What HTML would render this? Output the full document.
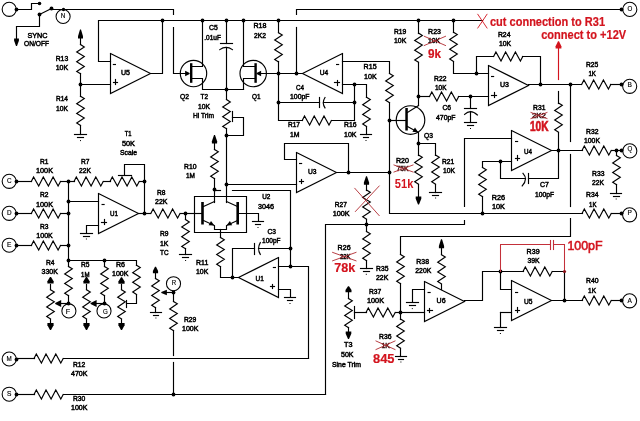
<!DOCTYPE html>
<html><head><meta charset="utf-8"><style>
html,body{margin:0;padding:0;background:#fff;width:640px;height:421px;overflow:hidden}
svg{display:block;will-change:transform}
text{font-family:"Liberation Sans",sans-serif}
</style></head><body>
<svg width="640" height="421" viewBox="0 0 640 421">
<rect width="640" height="421" fill="#fff"/>
<g fill="none" stroke-linejoin="miter" stroke-linecap="square">
<circle cx="9.2" cy="9.3" r="7.05" fill="none" stroke="#000" stroke-width="1.05"/>
<circle cx="16.5" cy="9.5" r="1.9" fill="#000" stroke="none"/>
<polyline points="16.5,9.5 31.5,9.5 31.5,3.5 39.5,3.5" stroke="#000" stroke-width="1.15"/>
<circle cx="39.5" cy="3.5" r="1.8" fill="#000" stroke="none"/>
<circle cx="39.5" cy="14.5" r="1.9" fill="#000" stroke="none"/>
<polyline points="39.5,14.5 51.5,8.5" stroke="#000" stroke-width="1.15"/>
<circle cx="51.5" cy="8.5" r="1.9" fill="#000" stroke="none"/>
<polyline points="39.5,14.5 39.5,26.5 16.5,26.5 16.5,39.5" stroke="#000" stroke-width="1.15"/>
<polygon points="16,46 17,46 18.9,40.7 18.9,38.5 14.1,38.5 14.1,40.7" fill="#000" stroke="none"/>
<polyline points="52.5,9.5 173.5,9.5 173.5,14.5" stroke="#000" stroke-width="1.15"/>
<polyline points="173.5,27.5 173.5,73.5 186.5,73.5" stroke="#000" stroke-width="1.15"/>
<circle cx="63.5" cy="9.5" r="1.7" fill="#000" stroke="none"/>
<circle cx="63.1" cy="16.5" r="7.05" fill="none" stroke="#000" stroke-width="1.05"/>
<text x="60.8" y="17.8" font-size="6.3" fill="#000" textLength="4.6" lengthAdjust="spacingAndGlyphs" stroke="#000" stroke-width="0.15">N</text>
<text x="27.4" y="37.79" font-size="7.4" fill="#000" textLength="20" lengthAdjust="spacingAndGlyphs" stroke="#000" stroke-width="0.5">SYNC</text>
<text x="24" y="46.39" font-size="7.4" fill="#000" textLength="25" lengthAdjust="spacingAndGlyphs" stroke="#000" stroke-width="0.5">ON/OFF</text>
<polyline points="110.5,53.5 110.5,93.5 150.5,73.5 110.5,53.5" stroke="#000" stroke-width="1.15"/>
<polyline points="113.4,64.5 115.4,64.5" stroke="#000" stroke-width="1.15"/>
<polyline points="113.5,82.5 117.5,82.5" stroke="#000" stroke-width="1.15"/>
<polyline points="115.5,79.5 115.5,84.5" stroke="#000" stroke-width="1.15"/>
<text x="121" y="74.59" font-size="7.4" fill="#000" textLength="9" lengthAdjust="spacingAndGlyphs" stroke="#000" stroke-width="0.5">U5</text>
<polyline points="110.5,61.5 98.5,61.5 98.5,20.5 482.5,20.5" stroke="#000" stroke-width="1.15"/>
<polyline points="151.5,73.5 162.5,73.5 162.5,20.5" stroke="#000" stroke-width="1.15"/>
<circle cx="162.5" cy="20.5" r="1.9" fill="#000" stroke="none"/>
<polyline points="80.5,84.5 110.5,84.5" stroke="#000" stroke-width="1.15"/>
<circle cx="80.5" cy="84.5" r="1.9" fill="#000" stroke="none"/>
<polygon points="80,29.5 81,29.5 83,36.3 83,38.5 78,38.5 78,36.3" fill="#000" stroke="none"/>
<polyline points="80.5,38.5 80.5,44.5" stroke="#000" stroke-width="1.15"/>
<polyline points="80.5,44.6 84.3,46.9 76.7,52 84.3,56.6 76.7,61.7 84.3,66.4 76.7,71.4 80.5,73.8" stroke="#000" stroke-width="1.15"/>
<polyline points="80.5,73.5 80.5,96.5" stroke="#000" stroke-width="1.15"/>
<polyline points="80.5,96.3 84.3,98.6 76.7,103.7 84.3,108.3 76.7,113.4 84.3,118.1 76.7,123.1 80.5,125.5" stroke="#000" stroke-width="1.15"/>
<polyline points="80.5,125.5 80.5,134.5" stroke="#000" stroke-width="1.15"/>
<polyline points="74.5,134.5 86.5,134.5" stroke="#000" stroke-width="1.15"/>
<polyline points="77.5,137.5 83.5,137.5" stroke="#000" stroke-width="1.15"/>
<rect x="80" y="140.1" width="1" height="1" fill="#000"/>
<text x="55.7" y="61.09" font-size="7.4" fill="#000" textLength="12.5" lengthAdjust="spacingAndGlyphs" stroke="#000" stroke-width="0.5">R13</text>
<text x="55.7" y="70.19" font-size="7.4" fill="#000" textLength="12.5" lengthAdjust="spacingAndGlyphs" stroke="#000" stroke-width="0.5">10K</text>
<text x="56" y="101.39" font-size="7.4" fill="#000" textLength="12" lengthAdjust="spacingAndGlyphs" stroke="#000" stroke-width="0.5">R14</text>
<text x="56" y="111.39" font-size="7.4" fill="#000" textLength="12" lengthAdjust="spacingAndGlyphs" stroke="#000" stroke-width="0.5">10K</text>
<circle cx="193.5" cy="73.5" r="13.2" fill="none" stroke="#000" stroke-width="1.15"/>
<polygon points="189.6,73 189.6,74 185.1,76.3 185.1,70.7" fill="#000" stroke="none"/>
<rect x="190" y="63.2" width="2.4" height="19.6" fill="#000"/>
<polyline points="192.5,66.5 202.5,66.5 202.5,20.5" stroke="#000" stroke-width="1.15"/>
<polyline points="192.5,78.5 202.5,78.5 202.5,89.5 243.5,89.5" stroke="#000" stroke-width="1.15"/>
<circle cx="202.5" cy="20.5" r="1.9" fill="#000" stroke="none"/>
<circle cx="253.2" cy="73.5" r="13.2" fill="none" stroke="#000" stroke-width="1.15"/>
<polygon points="256.6,73 256.6,74 261.1,76.3 261.1,70.7" fill="#000" stroke="none"/>
<rect x="254.4" y="63.2" width="2.4" height="19.6" fill="#000"/>
<polyline points="255.5,66.5 243.5,66.5 243.5,20.5" stroke="#000" stroke-width="1.15"/>
<polyline points="255.5,78.5 243.5,78.5 243.5,89.5" stroke="#000" stroke-width="1.15"/>
<circle cx="243.5" cy="20.5" r="1.9" fill="#000" stroke="none"/>
<polyline points="260.5,73.5 302.5,73.5" stroke="#000" stroke-width="1.15"/>
<circle cx="278.5" cy="73.5" r="1.9" fill="#000" stroke="none"/>
<circle cx="296.5" cy="73.5" r="1.9" fill="#000" stroke="none"/>
<circle cx="226.5" cy="20.5" r="1.9" fill="#000" stroke="none"/>
<polyline points="226.5,20.5 226.5,43.5" stroke="#000" stroke-width="1.15"/>
<polyline points="220.5,43.5 232.5,43.5" stroke="#000" stroke-width="1.15"/>
<path d="M219.8,49.6 Q226,45 232.4,49.6" fill="none" stroke="#000" stroke-width="1.15"/>
<polyline points="226.5,47.5 226.5,99.5" stroke="#000" stroke-width="1.15"/>
<circle cx="226.5" cy="89.5" r="1.9" fill="#000" stroke="none"/>
<text x="209" y="30.39" font-size="7.4" fill="#000" textLength="8.7" lengthAdjust="spacingAndGlyphs" stroke="#000" stroke-width="0.5">C5</text>
<text x="204.3" y="39.89" font-size="7.4" fill="#000" textLength="16.7" lengthAdjust="spacingAndGlyphs" stroke="#000" stroke-width="0.5">.01uF</text>
<text x="180" y="98.89" font-size="7.4" fill="#000" textLength="9" lengthAdjust="spacingAndGlyphs" stroke="#000" stroke-width="0.5">Q2</text>
<text x="200.5" y="98.89" font-size="7.4" fill="#000" textLength="7.5" lengthAdjust="spacingAndGlyphs" stroke="#000" stroke-width="0.5">T2</text>
<text x="198" y="109.39" font-size="7.4" fill="#000" textLength="12" lengthAdjust="spacingAndGlyphs" stroke="#000" stroke-width="0.5">10K</text>
<text x="193" y="118.39" font-size="7.4" fill="#000" textLength="21" lengthAdjust="spacingAndGlyphs" stroke="#000" stroke-width="0.5">Hi Trim</text>
<text x="252" y="98.89" font-size="7.4" fill="#000" textLength="8.5" lengthAdjust="spacingAndGlyphs" stroke="#000" stroke-width="0.5">Q1</text>
<polyline points="226.5,99.6 230.3,101.9 222.7,107 230.3,111.6 222.7,116.7 230.3,121.4 222.7,126.4 226.5,128.8" stroke="#000" stroke-width="1.15"/>
<polyline points="226.5,128.5 226.5,135.5" stroke="#000" stroke-width="1.15"/>
<circle cx="226.5" cy="135.5" r="1.9" fill="#000" stroke="none"/>
<polyline points="232.5,111.5 232.5,121.5" stroke="#000" stroke-width="1.15"/>
<polyline points="232.5,117.5 243.5,117.5 243.5,135.5 226.5,135.5" stroke="#000" stroke-width="1.15"/>
<circle cx="278.5" cy="20.5" r="1.9" fill="#000" stroke="none"/>
<polyline points="278.5,20.5 278.5,32.5" stroke="#000" stroke-width="1.15"/>
<polyline points="278.5,32.7 282.3,35 274.7,40.1 282.3,44.7 274.7,49.8 282.3,54.5 274.7,59.5 278.5,61.9" stroke="#000" stroke-width="1.15"/>
<polyline points="278.5,61.5 278.5,73.5" stroke="#000" stroke-width="1.15"/>
<text x="253.5" y="28.39" font-size="7.4" fill="#000" textLength="13" lengthAdjust="spacingAndGlyphs" stroke="#000" stroke-width="0.5">R18</text>
<text x="254" y="38.39" font-size="7.4" fill="#000" textLength="12" lengthAdjust="spacingAndGlyphs" stroke="#000" stroke-width="0.5">2K2</text>
<polyline points="296.5,14.5 296.5,9.5 621.5,9.5" stroke="#000" stroke-width="1.15"/>
<polyline points="296.5,27.5 296.5,73.5" stroke="#000" stroke-width="1.15"/>
<circle cx="621.5" cy="9.5" r="1.9" fill="#000" stroke="none"/>
<circle cx="629.8" cy="9.4" r="7.05" fill="none" stroke="#000" stroke-width="1.05"/>
<text x="627.4" y="10.7" font-size="6.3" fill="#000" textLength="4.8" lengthAdjust="spacingAndGlyphs" stroke="#000" stroke-width="0.15">O</text>
<polyline points="342.5,53.5 342.5,93.5 302.5,73.5 342.5,53.5" stroke="#000" stroke-width="1.15"/>
<polyline points="336.6,64.5 338.6,64.5" stroke="#000" stroke-width="1.15"/>
<polyline points="334.5,82.5 339.5,82.5" stroke="#000" stroke-width="1.15"/>
<polyline points="337.5,80.5 337.5,85.5" stroke="#000" stroke-width="1.15"/>
<text x="319.7" y="75.09" font-size="7.4" fill="#000" textLength="8.5" lengthAdjust="spacingAndGlyphs" stroke="#000" stroke-width="0.5">U4</text>
<polyline points="342.5,61.5 389.5,61.5 389.5,73.5" stroke="#000" stroke-width="1.15"/>
<polyline points="389.5,73.5 393.3,75.8 385.7,80.9 393.3,85.5 385.7,90.6 393.3,95.3 385.7,100.3 389.5,102.7" stroke="#000" stroke-width="1.15"/>
<polyline points="389.5,102.5 389.5,213.5 482.5,213.5" stroke="#000" stroke-width="1.15"/>
<polyline points="342.5,84.5 366.5,84.5 366.5,97.5" stroke="#000" stroke-width="1.15"/>
<circle cx="354.5" cy="84.5" r="1.9" fill="#000" stroke="none"/>
<polyline points="366.5,97.3 370.3,99.6 362.7,104.7 370.3,109.3 362.7,114.4 370.3,119.1 362.7,124.1 366.5,126.5" stroke="#000" stroke-width="1.15"/>
<polyline points="366.5,126.5 366.5,134.5" stroke="#000" stroke-width="1.15"/>
<polyline points="360.5,134.5 371.5,134.5" stroke="#000" stroke-width="1.15"/>
<polyline points="363.5,137.5 368.5,137.5" stroke="#000" stroke-width="1.15"/>
<rect x="365.5" y="140" width="1" height="1" fill="#000"/>
<polyline points="354.5,84.5 354.5,120.5 331.5,120.5" stroke="#000" stroke-width="1.15"/>
<circle cx="354.5" cy="102.5" r="1.9" fill="#000" stroke="none"/>
<polyline points="278.5,73.5 278.5,120.5 302.5,120.5" stroke="#000" stroke-width="1.15"/>
<polyline points="302.2,120.5 304.5,116 309.6,125 314.2,116 319.3,125 324,116 329,125 331.4,120.5" stroke="#000" stroke-width="1.15"/>
<circle cx="278.5" cy="102.5" r="1.9" fill="#000" stroke="none"/>
<polyline points="278.5,102.5 319.5,102.5" stroke="#000" stroke-width="1.15"/>
<polyline points="319.5,97.5 319.5,107.5" stroke="#000" stroke-width="1.15"/>
<path d="M325,97.5 Q321.6,102.7 325,107.9" fill="none" stroke="#000" stroke-width="1.15"/>
<polyline points="323.5,102.5 354.5,102.5" stroke="#000" stroke-width="1.15"/>
<text x="363.6" y="69.19" font-size="7.4" fill="#000" textLength="13" lengthAdjust="spacingAndGlyphs" stroke="#000" stroke-width="0.5">R15</text>
<text x="364" y="78.99" font-size="7.4" fill="#000" textLength="12.7" lengthAdjust="spacingAndGlyphs" stroke="#000" stroke-width="0.5">10K</text>
<text x="296" y="90.39" font-size="7.4" fill="#000" textLength="8" lengthAdjust="spacingAndGlyphs" stroke="#000" stroke-width="0.5">C4</text>
<text x="290" y="99.39" font-size="7.4" fill="#000" textLength="19.5" lengthAdjust="spacingAndGlyphs" stroke="#000" stroke-width="0.5">100pF</text>
<text x="288" y="127.19" font-size="7.4" fill="#000" textLength="12" lengthAdjust="spacingAndGlyphs" stroke="#000" stroke-width="0.5">R17</text>
<text x="290" y="136.99" font-size="7.4" fill="#000" textLength="9.5" lengthAdjust="spacingAndGlyphs" stroke="#000" stroke-width="0.5">1M</text>
<text x="344" y="127.19" font-size="7.4" fill="#000" textLength="12.5" lengthAdjust="spacingAndGlyphs" stroke="#000" stroke-width="0.5">R16</text>
<text x="344" y="136.99" font-size="7.4" fill="#000" textLength="12.5" lengthAdjust="spacingAndGlyphs" stroke="#000" stroke-width="0.5">10K</text>
<circle cx="418.5" cy="20.5" r="1.9" fill="#000" stroke="none"/>
<polyline points="418.5,20.5 418.5,33.5" stroke="#000" stroke-width="1.15"/>
<polyline points="418.5,33.1 422.3,35.4 414.7,40.5 422.3,45.1 414.7,50.2 422.3,54.9 414.7,59.9 418.5,62.3" stroke="#000" stroke-width="1.15"/>
<polyline points="418.5,62.5 418.5,105.5" stroke="#000" stroke-width="1.15"/>
<circle cx="418.5" cy="96.5" r="1.9" fill="#000" stroke="none"/>
<circle cx="453.5" cy="20.5" r="1.9" fill="#000" stroke="none"/>
<polyline points="453.5,20.5 453.5,32.5" stroke="#000" stroke-width="1.15"/>
<polyline points="453.5,32.2 457.3,34.5 449.7,39.6 457.3,44.2 449.7,49.3 457.3,54 449.7,59 453.5,61.4" stroke="#000" stroke-width="1.15"/>
<polyline points="453.5,61.5 453.5,73.5 488.5,73.5" stroke="#000" stroke-width="1.15"/>
<circle cx="476.5" cy="73.5" r="1.9" fill="#000" stroke="none"/>
<polyline points="476.5,73.5 476.5,56.5 493.5,56.5" stroke="#000" stroke-width="1.15"/>
<polyline points="493.6,56.5 495.9,52 501,61 505.6,52 510.7,61 515.4,52 520.4,61 522.8,56.5" stroke="#000" stroke-width="1.15"/>
<polyline points="522.5,56.5 540.5,56.5 540.5,84.5" stroke="#000" stroke-width="1.15"/>
<text x="394" y="34.39" font-size="7.4" fill="#000" textLength="12.3" lengthAdjust="spacingAndGlyphs" stroke="#000" stroke-width="0.5">R19</text>
<text x="394" y="43.39" font-size="7.4" fill="#000" textLength="12.3" lengthAdjust="spacingAndGlyphs" stroke="#000" stroke-width="0.5">10K</text>
<text x="428.1" y="33.99" font-size="7.4" fill="#000" textLength="12.9" lengthAdjust="spacingAndGlyphs" stroke="#000" stroke-width="0.5">R23</text>
<text x="428" y="43.19" font-size="7.4" fill="#000" textLength="12" lengthAdjust="spacingAndGlyphs" stroke="#000" stroke-width="0.5">10K</text>
<polyline points="424.3,36.3 445.5,45.5" stroke="#b02a30" stroke-width="0.9"/>
<polyline points="424.3,45.5 445.5,36.3" stroke="#b02a30" stroke-width="0.9"/>
<text x="428" y="58" font-size="13.5" fill="#d3141e" font-weight="bold" textLength="13" lengthAdjust="spacingAndGlyphs" stroke="#d3141e" stroke-width="0.2">9k</text>
<text x="497.9" y="37.39" font-size="7.4" fill="#000" textLength="12.6" lengthAdjust="spacingAndGlyphs" stroke="#000" stroke-width="0.5">R24</text>
<text x="499" y="46.39" font-size="7.4" fill="#000" textLength="12.2" lengthAdjust="spacingAndGlyphs" stroke="#000" stroke-width="0.5">10K</text>
<polyline points="418.5,96.5 429.5,96.5" stroke="#000" stroke-width="1.15"/>
<polyline points="429.5,96.5 431.8,92 436.9,101 441.5,92 446.6,101 451.3,92 456.3,101 458.7,96.5" stroke="#000" stroke-width="1.15"/>
<polyline points="458.5,96.5 488.5,96.5" stroke="#000" stroke-width="1.15"/>
<circle cx="470.5" cy="96.5" r="1.9" fill="#000" stroke="none"/>
<polyline points="470.5,96.5 470.5,108.5" stroke="#000" stroke-width="1.15"/>
<polyline points="464.5,108.5 476.5,108.5" stroke="#000" stroke-width="1.15"/>
<path d="M464.6,114.4 Q470.6,108.4 477.4,115" fill="none" stroke="#000" stroke-width="1.15"/>
<polyline points="470.5,111.5 470.5,122.5" stroke="#000" stroke-width="1.15"/>
<polyline points="464.5,122.5 476.5,122.5" stroke="#000" stroke-width="1.15"/>
<polyline points="467.5,125.5 473.5,125.5" stroke="#000" stroke-width="1.15"/>
<rect x="470" y="128" width="1" height="1" fill="#000"/>
<text x="434" y="80.69" font-size="7.4" fill="#000" textLength="12.4" lengthAdjust="spacingAndGlyphs" stroke="#000" stroke-width="0.5">R22</text>
<text x="435" y="90.39" font-size="7.4" fill="#000" textLength="11.5" lengthAdjust="spacingAndGlyphs" stroke="#000" stroke-width="0.5">10K</text>
<text x="442.5" y="110.39" font-size="7.4" fill="#000" textLength="8.5" lengthAdjust="spacingAndGlyphs" stroke="#000" stroke-width="0.5">C6</text>
<text x="436" y="119.69" font-size="7.4" fill="#000" textLength="19.6" lengthAdjust="spacingAndGlyphs" stroke="#000" stroke-width="0.5">470pF</text>
<circle cx="410.5" cy="120.1" r="14.3" fill="none" stroke="#000" stroke-width="1.15"/>
<circle cx="389.5" cy="120.5" r="1.9" fill="#000" stroke="none"/>
<polyline points="389.5,120.5 406.5,120.5" stroke="#000" stroke-width="1.15"/>
<rect x="405.3" y="108" width="2.5" height="22.5" fill="#000"/>
<polyline points="407.5,112.5 418.5,105.5" stroke="#000" stroke-width="1.15"/>
<polyline points="407.5,126.5 418.5,132.5 418.5,143.5 435.5,143.5 435.5,155.5" stroke="#000" stroke-width="1.15"/>
<polygon points="418.4,132.5 412.4,131.8 415,127.6" fill="#000" stroke="none"/>
<circle cx="418.5" cy="143.5" r="1.9" fill="#000" stroke="none"/>
<polyline points="418.5,143.5 418.5,155.5" stroke="#000" stroke-width="1.15"/>
<text x="424" y="138.39" font-size="7.4" fill="#000" textLength="9" lengthAdjust="spacingAndGlyphs" stroke="#000" stroke-width="0.5">Q3</text>
<polyline points="418.5,155 422.3,157.3 414.7,162.4 422.3,167 414.7,172.1 422.3,176.8 414.7,181.8 418.5,184.2" stroke="#000" stroke-width="1.15"/>
<polyline points="418.5,184.5 418.5,197.5" stroke="#000" stroke-width="1.15"/>
<polygon points="418,204.5 419,204.5 421.3,198.7 421.3,196.5 415.7,196.5 415.7,198.7" fill="#000" stroke="none"/>
<text x="396" y="163.39" font-size="7.4" fill="#000" textLength="13" lengthAdjust="spacingAndGlyphs" stroke="#000" stroke-width="0.5">R20</text>
<text x="396.5" y="171.39" font-size="7.4" fill="#3a1414" textLength="12" lengthAdjust="spacingAndGlyphs" stroke="#3a1414" stroke-width="0.5">75K</text>
<polyline points="394,165 413,172" stroke="#b02a30" stroke-width="0.9"/>
<polyline points="394,172 413,165" stroke="#b02a30" stroke-width="0.9"/>
<text x="394.8" y="188" font-size="13.5" fill="#d3141e" font-weight="bold" textLength="18.5" lengthAdjust="spacingAndGlyphs">51k</text>
<polyline points="435.5,155 439.3,157.3 431.7,162.4 439.3,167 431.7,172.1 439.3,176.8 431.7,181.8 435.5,184.2" stroke="#000" stroke-width="1.15"/>
<polyline points="435.5,184.5 435.5,192.5" stroke="#000" stroke-width="1.15"/>
<polyline points="429.5,192.5 441.5,192.5" stroke="#000" stroke-width="1.15"/>
<polyline points="432.5,195.5 438.5,195.5" stroke="#000" stroke-width="1.15"/>
<rect x="435.1" y="197.5" width="1" height="1" fill="#000"/>
<text x="442" y="163.69" font-size="7.4" fill="#000" textLength="12.2" lengthAdjust="spacingAndGlyphs" stroke="#000" stroke-width="0.5">R21</text>
<text x="443" y="173.39" font-size="7.4" fill="#000" textLength="12" lengthAdjust="spacingAndGlyphs" stroke="#000" stroke-width="0.5">10K</text>
<polyline points="488.5,65.5 488.5,105.5 528.5,85.5 488.5,65.5" stroke="#000" stroke-width="1.15"/>
<polyline points="491.6,76.5 493.6,76.5" stroke="#000" stroke-width="1.15"/>
<polyline points="491.5,95.5 496.5,95.5" stroke="#000" stroke-width="1.15"/>
<polyline points="494.5,92.5 494.5,97.5" stroke="#000" stroke-width="1.15"/>
<text x="500" y="87.39" font-size="7.4" fill="#000" textLength="9" lengthAdjust="spacingAndGlyphs" stroke="#000" stroke-width="0.5">U3</text>
<polyline points="528.5,84.5 581.5,84.5" stroke="#000" stroke-width="1.15"/>
<polyline points="581.6,84.5 583.9,80 589,89 593.6,80 598.7,89 603.4,80 608.4,89 610.8,84.5" stroke="#000" stroke-width="1.15"/>
<polyline points="610.5,84.5 621.5,84.5" stroke="#000" stroke-width="1.15"/>
<circle cx="621.5" cy="84.5" r="1.9" fill="#000" stroke="none"/>
<circle cx="629.7" cy="86.3" r="7.05" fill="none" stroke="#000" stroke-width="1.05"/>
<text x="627.5" y="86.8" font-size="6.3" fill="#000" textLength="4.4" lengthAdjust="spacingAndGlyphs" stroke="#000" stroke-width="0.15">B</text>
<circle cx="540.5" cy="84.5" r="1.9" fill="#000" stroke="none"/>
<circle cx="570.5" cy="84.5" r="1.9" fill="#000" stroke="none"/>
<text x="586" y="66.69" font-size="7.4" fill="#000" textLength="12.3" lengthAdjust="spacingAndGlyphs" stroke="#000" stroke-width="0.5">R25</text>
<text x="588.4" y="76.39" font-size="7.4" fill="#000" textLength="7.6" lengthAdjust="spacingAndGlyphs" stroke="#000" stroke-width="0.5">1K</text>
<polyline points="558.5,91.5 558.5,103.5" stroke="#000" stroke-width="1.15"/>
<polyline points="558.5,103 562.3,105.3 554.7,110.4 562.3,115 554.7,120.1 562.3,124.8 554.7,129.8 558.5,132.2" stroke="#000" stroke-width="1.15"/>
<polyline points="558.5,132.5 558.5,178.5 528.5,178.5" stroke="#000" stroke-width="1.15"/>
<circle cx="558.5" cy="150.5" r="1.9" fill="#000" stroke="none"/>
<polyline points="558.5,48.5 558.5,79.5" stroke="#d3141e" stroke-width="1.15"/>
<polygon points="558,41.2 559,41.2 561.4,46.2 561.4,48.4 555.6,48.4 555.6,46.2" fill="#d3141e" stroke="none"/>
<text x="533" y="109.89" font-size="7.4" fill="#000" textLength="12.5" lengthAdjust="spacingAndGlyphs" stroke="#000" stroke-width="0.5">R31</text>
<text x="532" y="118.19" font-size="7.4" fill="#3a1414" textLength="14" lengthAdjust="spacingAndGlyphs" stroke="#3a1414" stroke-width="0.5">2K2</text>
<polyline points="531,112.5 547,118.5" stroke="#b02a30" stroke-width="0.9"/>
<polyline points="531,118.5 547,112.5" stroke="#b02a30" stroke-width="0.9"/>
<text x="530" y="130.6" font-size="15" fill="#d3141e" font-weight="bold" textLength="18.5" lengthAdjust="spacingAndGlyphs" stroke="#d3141e" stroke-width="0.7">10K</text>
<polyline points="570.5,84.5 570.5,141.5" stroke="#000" stroke-width="1.15"/>
<polyline points="570.5,154.5 570.5,206.5" stroke="#000" stroke-width="1.15"/>
<polyline points="570.5,218.5 570.5,236.5 400.5,236.5 400.5,254.5" stroke="#000" stroke-width="1.15"/>
<polyline points="511.5,130.5 511.5,170.5 551.5,150.5 511.5,130.5" stroke="#000" stroke-width="1.15"/>
<polyline points="515.6,141.5 517.6,141.5" stroke="#000" stroke-width="1.15"/>
<polyline points="515.5,158.5 519.5,158.5" stroke="#000" stroke-width="1.15"/>
<polyline points="517.5,155.5 517.5,160.5" stroke="#000" stroke-width="1.15"/>
<text x="524" y="153.89" font-size="7.4" fill="#000" textLength="8" lengthAdjust="spacingAndGlyphs" stroke="#000" stroke-width="0.5">U4</text>
<polyline points="464.5,206.5 464.5,138.5 511.5,138.5" stroke="#000" stroke-width="1.15"/>
<polyline points="464.5,220.5 464.5,224.5 325.5,224.5 325.5,394.5" stroke="#000" stroke-width="1.15"/>
<polyline points="482.5,167.5 482.5,161.5 511.5,161.5" stroke="#000" stroke-width="1.15"/>
<circle cx="500.5" cy="161.5" r="1.9" fill="#000" stroke="none"/>
<polyline points="482.5,167.5 486.3,169.8 478.7,174.9 486.3,179.5 478.7,184.6 486.3,189.3 478.7,194.3 482.5,196.7" stroke="#000" stroke-width="1.15"/>
<polyline points="482.5,196.5 482.5,213.5" stroke="#000" stroke-width="1.15"/>
<circle cx="482.5" cy="213.5" r="1.9" fill="#000" stroke="none"/>
<polyline points="500.5,161.5 500.5,178.5 525.5,178.5" stroke="#000" stroke-width="1.15"/>
<path d="M523,173.4 Q528.4,179.2 522.2,185.9" fill="none" stroke="#000" stroke-width="1.15"/>
<polyline points="528.5,173.5 528.5,183.5" stroke="#000" stroke-width="1.15"/>
<polyline points="551.5,150.5 582.5,150.5" stroke="#000" stroke-width="1.15"/>
<polyline points="582,150.5 584.3,146 589.4,155 594,146 599.1,155 603.8,146 608.8,155 611.2,150.5" stroke="#000" stroke-width="1.15"/>
<polyline points="611.5,150.5 621.5,150.5" stroke="#000" stroke-width="1.15"/>
<circle cx="616.5" cy="150.5" r="1.9" fill="#000" stroke="none"/>
<circle cx="621.5" cy="150.5" r="1.9" fill="#000" stroke="none"/>
<circle cx="629.8" cy="150.9" r="7.05" fill="none" stroke="#000" stroke-width="1.05"/>
<text x="627.4" y="150.8" font-size="6.3" fill="#000" textLength="4.8" lengthAdjust="spacingAndGlyphs" stroke="#000" stroke-width="0.15">Q</text>
<polyline points="616.5,150.5 616.5,155.5" stroke="#000" stroke-width="1.15"/>
<polyline points="616.5,155.5 620.3,157.8 612.7,162.9 620.3,167.5 612.7,172.6 620.3,177.3 612.7,182.3 616.5,184.7" stroke="#000" stroke-width="1.15"/>
<polyline points="616.5,184.5 616.5,193.5" stroke="#000" stroke-width="1.15"/>
<polyline points="610.5,193.5 621.5,193.5" stroke="#000" stroke-width="1.15"/>
<polyline points="613.5,196.5 619.5,196.5" stroke="#000" stroke-width="1.15"/>
<rect x="615.7" y="198.5" width="1" height="1" fill="#000"/>
<text x="540" y="187.09" font-size="7.4" fill="#000" textLength="8.8" lengthAdjust="spacingAndGlyphs" stroke="#000" stroke-width="0.5">C7</text>
<text x="535" y="196.89" font-size="7.4" fill="#000" textLength="19" lengthAdjust="spacingAndGlyphs" stroke="#000" stroke-width="0.5">100pF</text>
<text x="491.7" y="199.89" font-size="7.4" fill="#000" textLength="13.3" lengthAdjust="spacingAndGlyphs" stroke="#000" stroke-width="0.5">R26</text>
<text x="492" y="208.89" font-size="7.4" fill="#000" textLength="13" lengthAdjust="spacingAndGlyphs" stroke="#000" stroke-width="0.5">10K</text>
<text x="586" y="134.39" font-size="7.4" fill="#000" textLength="12.5" lengthAdjust="spacingAndGlyphs" stroke="#000" stroke-width="0.5">R32</text>
<text x="584" y="142.89" font-size="7.4" fill="#000" textLength="16" lengthAdjust="spacingAndGlyphs" stroke="#000" stroke-width="0.5">100K</text>
<text x="592" y="176.39" font-size="7.4" fill="#000" textLength="12.5" lengthAdjust="spacingAndGlyphs" stroke="#000" stroke-width="0.5">R33</text>
<text x="592" y="185.39" font-size="7.4" fill="#000" textLength="12" lengthAdjust="spacingAndGlyphs" stroke="#000" stroke-width="0.5">22K</text>
<polyline points="482.5,213.5 582.5,213.5" stroke="#000" stroke-width="1.15"/>
<polyline points="582,213.5 584.3,209 589.4,218 594,209 599.1,218 603.8,209 608.8,218 611.2,213.5" stroke="#000" stroke-width="1.15"/>
<polyline points="611.5,213.5 621.5,213.5" stroke="#000" stroke-width="1.15"/>
<circle cx="621.5" cy="213.5" r="1.9" fill="#000" stroke="none"/>
<circle cx="629.6" cy="214.8" r="7.05" fill="none" stroke="#000" stroke-width="1.05"/>
<text x="627.4" y="214.6" font-size="6.3" fill="#000" textLength="4.4" lengthAdjust="spacingAndGlyphs" stroke="#000" stroke-width="0.15">P</text>
<text x="586" y="197.39" font-size="7.4" fill="#000" textLength="12.5" lengthAdjust="spacingAndGlyphs" stroke="#000" stroke-width="0.5">R34</text>
<text x="589" y="206.89" font-size="7.4" fill="#000" textLength="7.5" lengthAdjust="spacingAndGlyphs" stroke="#000" stroke-width="0.5">1K</text>
<polyline points="296.5,152.5 296.5,192.5 336.5,172.5 296.5,152.5" stroke="#000" stroke-width="1.15"/>
<polyline points="299.6,163.5 301.6,163.5" stroke="#000" stroke-width="1.15"/>
<polyline points="299.5,181.5 303.5,181.5" stroke="#000" stroke-width="1.15"/>
<polyline points="301.5,179.5 301.5,183.5" stroke="#000" stroke-width="1.15"/>
<text x="308" y="173.89" font-size="7.4" fill="#000" textLength="8.6" lengthAdjust="spacingAndGlyphs" stroke="#000" stroke-width="0.5">U3</text>
<polyline points="296.5,159.5 284.5,159.5 284.5,143.5 348.5,143.5 348.5,172.5" stroke="#000" stroke-width="1.15"/>
<polyline points="336.5,172.5 389.5,172.5" stroke="#000" stroke-width="1.15"/>
<circle cx="348.5" cy="172.5" r="1.9" fill="#000" stroke="none"/>
<circle cx="389.5" cy="172.5" r="1.9" fill="#000" stroke="none"/>
<polygon points="366,176.3 367,176.3 369.1,182.6 369.1,184.8 363.9,184.8 363.9,182.6" fill="#000" stroke="none"/>
<polyline points="366.5,184.5 366.5,190.5" stroke="#000" stroke-width="1.15"/>
<polyline points="366.5,190 370.3,192.3 362.7,197.4 370.3,202 362.7,207.1 370.3,211.8 362.7,216.8 366.5,219.2" stroke="#000" stroke-width="1.15"/>
<polyline points="366.5,219.5 366.5,231.5" stroke="#000" stroke-width="1.15"/>
<circle cx="366.5" cy="224.5" r="1.9" fill="#000" stroke="none"/>
<polyline points="354.8,188.3 379.2,215.6" stroke="#b02a30" stroke-width="0.9"/>
<polyline points="355.4,211.5 379.2,186" stroke="#b02a30" stroke-width="0.9"/>
<text x="334.8" y="206.69" font-size="7.4" fill="#000" textLength="12" lengthAdjust="spacingAndGlyphs" stroke="#000" stroke-width="0.5">R27</text>
<text x="332.7" y="215.89" font-size="7.4" fill="#000" textLength="17" lengthAdjust="spacingAndGlyphs" stroke="#000" stroke-width="0.5">100K</text>
<polyline points="366.5,231.5 370.3,233.8 362.7,238.9 370.3,243.5 362.7,248.6 370.3,253.3 362.7,258.3 366.5,260.7" stroke="#000" stroke-width="1.15"/>
<polyline points="366.5,260.5 366.5,268.5" stroke="#000" stroke-width="1.15"/>
<polyline points="360.5,268.5 372.5,268.5" stroke="#000" stroke-width="1.15"/>
<polyline points="363.5,271.5 369.5,271.5" stroke="#000" stroke-width="1.15"/>
<rect x="365.8" y="273.8" width="1" height="1" fill="#000"/>
<text x="337.6" y="249.89" font-size="7.4" fill="#000" textLength="13" lengthAdjust="spacingAndGlyphs" stroke="#000" stroke-width="0.5">R26</text>
<text x="340" y="259.39" font-size="7.4" fill="#000" textLength="10.5" lengthAdjust="spacingAndGlyphs" stroke="#000" stroke-width="0.5">22K</text>
<polyline points="332.6,252.4 356,260.8" stroke="#b02a30" stroke-width="0.9"/>
<polyline points="332.6,260.8 356,252.4" stroke="#b02a30" stroke-width="0.9"/>
<text x="334.3" y="271.8" font-size="13.5" fill="#d3141e" font-weight="bold" textLength="21" lengthAdjust="spacingAndGlyphs" stroke="#d3141e" stroke-width="0.2">78k</text>
<circle cx="9.2" cy="181.3" r="7.05" fill="none" stroke="#000" stroke-width="1.05"/>
<text x="6.9" y="182.7" font-size="6.3" fill="#000" textLength="4.6" lengthAdjust="spacingAndGlyphs" stroke="#000" stroke-width="0.15">C</text>
<circle cx="16.5" cy="181.5" r="1.9" fill="#000" stroke="none"/>
<polyline points="16.5,181.5 31.5,181.5" stroke="#000" stroke-width="1.15"/>
<polyline points="31.3,181.5 33.6,177 38.7,186 43.3,177 48.4,186 53.1,177 58.1,186 60.5,181.5" stroke="#000" stroke-width="1.15"/>
<polyline points="60.5,181.5 74.5,181.5" stroke="#000" stroke-width="1.15"/>
<polyline points="74,181.5 76.3,177 81.4,186 86,177 91.1,186 95.8,177 100.8,186 103.2,181.5" stroke="#000" stroke-width="1.15"/>
<polyline points="103.5,181.5 110.5,181.5" stroke="#000" stroke-width="1.15"/>
<polyline points="110,181.5 112.3,177 117.4,186 122,177 127.1,186 131.8,177 136.8,186 139.2,181.5" stroke="#000" stroke-width="1.15"/>
<polyline points="139.5,181.5 144.5,181.5" stroke="#000" stroke-width="1.15"/>
<circle cx="68.5" cy="181.5" r="1.9" fill="#000" stroke="none"/>
<circle cx="144.5" cy="181.5" r="1.9" fill="#000" stroke="none"/>
<polyline points="118.5,175.5 131.5,175.5" stroke="#000" stroke-width="1.15"/>
<polyline points="124.5,175.5 124.5,164.5 144.5,164.5 144.5,213.5" stroke="#000" stroke-width="1.15"/>
<circle cx="9.2" cy="213.3" r="7.05" fill="none" stroke="#000" stroke-width="1.05"/>
<text x="6.9" y="214.9" font-size="6.3" fill="#000" textLength="4.6" lengthAdjust="spacingAndGlyphs" stroke="#000" stroke-width="0.15">D</text>
<circle cx="16.5" cy="213.5" r="1.9" fill="#000" stroke="none"/>
<polyline points="16.5,213.5 31.5,213.5" stroke="#000" stroke-width="1.15"/>
<polyline points="31.3,213.5 33.6,209 38.7,218 43.3,209 48.4,218 53.1,209 58.1,218 60.5,213.5" stroke="#000" stroke-width="1.15"/>
<polyline points="60.5,213.5 68.5,213.5" stroke="#000" stroke-width="1.15"/>
<circle cx="9.2" cy="245.2" r="7.05" fill="none" stroke="#000" stroke-width="1.05"/>
<text x="7" y="246.8" font-size="6.3" fill="#000" textLength="4.4" lengthAdjust="spacingAndGlyphs" stroke="#000" stroke-width="0.15">E</text>
<circle cx="16.5" cy="245.5" r="1.9" fill="#000" stroke="none"/>
<polyline points="16.5,245.5 31.5,245.5" stroke="#000" stroke-width="1.15"/>
<polyline points="31.3,245.5 33.6,241 38.7,250 43.3,241 48.4,250 53.1,241 58.1,250 60.5,245.5" stroke="#000" stroke-width="1.15"/>
<polyline points="60.5,245.5 68.5,245.5" stroke="#000" stroke-width="1.15"/>
<polyline points="68.5,181.5 68.5,260.5" stroke="#000" stroke-width="1.15"/>
<circle cx="68.5" cy="201.5" r="1.9" fill="#000" stroke="none"/>
<circle cx="68.5" cy="213.5" r="1.9" fill="#000" stroke="none"/>
<circle cx="68.5" cy="245.5" r="1.9" fill="#000" stroke="none"/>
<polyline points="68.5,201.5 98.5,201.5" stroke="#000" stroke-width="1.15"/>
<polyline points="98.5,193.5 98.5,233.5 138.5,213.5 98.5,193.5" stroke="#000" stroke-width="1.15"/>
<polyline points="102.1,204.5 104.1,204.5" stroke="#000" stroke-width="1.15"/>
<polyline points="101.5,222.5 106.5,222.5" stroke="#000" stroke-width="1.15"/>
<polyline points="104.5,219.5 104.5,224.5" stroke="#000" stroke-width="1.15"/>
<text x="110" y="215.69" font-size="7.4" fill="#000" textLength="8" lengthAdjust="spacingAndGlyphs" stroke="#000" stroke-width="0.5">U1</text>
<polyline points="98.5,225.5 86.5,225.5 86.5,233.5" stroke="#000" stroke-width="1.15"/>
<polyline points="80.5,233.5 92.5,233.5" stroke="#000" stroke-width="1.15"/>
<polyline points="83.5,236.5 89.5,236.5" stroke="#000" stroke-width="1.15"/>
<rect x="85.9" y="238.5" width="1" height="1" fill="#000"/>
<polyline points="138.5,213.5 150.5,213.5" stroke="#000" stroke-width="1.15"/>
<circle cx="144.5" cy="213.5" r="1.9" fill="#000" stroke="none"/>
<polyline points="150.8,213.5 153.1,209 158.2,218 162.8,209 167.9,218 172.6,209 177.6,218 180,213.5" stroke="#000" stroke-width="1.15"/>
<polyline points="180.5,213.5 201.5,213.5" stroke="#000" stroke-width="1.15"/>
<circle cx="185.5" cy="213.5" r="1.9" fill="#000" stroke="none"/>
<text x="40" y="163.89" font-size="7.4" fill="#000" textLength="8.5" lengthAdjust="spacingAndGlyphs" stroke="#000" stroke-width="0.5">R1</text>
<text x="36" y="173.39" font-size="7.4" fill="#000" textLength="17" lengthAdjust="spacingAndGlyphs" stroke="#000" stroke-width="0.5">100K</text>
<text x="81" y="164.39" font-size="7.4" fill="#000" textLength="8.5" lengthAdjust="spacingAndGlyphs" stroke="#000" stroke-width="0.5">R7</text>
<text x="79" y="173.39" font-size="7.4" fill="#000" textLength="12" lengthAdjust="spacingAndGlyphs" stroke="#000" stroke-width="0.5">22K</text>
<text x="124.8" y="135.99" font-size="7.4" fill="#000" textLength="6.8" lengthAdjust="spacingAndGlyphs" stroke="#000" stroke-width="0.5">T1</text>
<text x="122" y="145.89" font-size="7.4" fill="#000" textLength="13" lengthAdjust="spacingAndGlyphs" stroke="#000" stroke-width="0.5">50K</text>
<text x="120" y="154.89" font-size="7.4" fill="#000" textLength="17" lengthAdjust="spacingAndGlyphs" stroke="#000" stroke-width="0.5">Scale</text>
<text x="40" y="197.39" font-size="7.4" fill="#000" textLength="8.5" lengthAdjust="spacingAndGlyphs" stroke="#000" stroke-width="0.5">R2</text>
<text x="36" y="207.39" font-size="7.4" fill="#000" textLength="17" lengthAdjust="spacingAndGlyphs" stroke="#000" stroke-width="0.5">100K</text>
<text x="40" y="228.59" font-size="7.4" fill="#000" textLength="8.5" lengthAdjust="spacingAndGlyphs" stroke="#000" stroke-width="0.5">R3</text>
<text x="36.3" y="237.69" font-size="7.4" fill="#000" textLength="16.5" lengthAdjust="spacingAndGlyphs" stroke="#000" stroke-width="0.5">100K</text>
<text x="157" y="195.39" font-size="7.4" fill="#000" textLength="8.5" lengthAdjust="spacingAndGlyphs" stroke="#000" stroke-width="0.5">R8</text>
<text x="155" y="204.39" font-size="7.4" fill="#000" textLength="12.5" lengthAdjust="spacingAndGlyphs" stroke="#000" stroke-width="0.5">22K</text>
<polygon points="214,135 215,135 217.1,141.3 217.1,143.5 211.9,143.5 211.9,141.3" fill="#000" stroke="none"/>
<polyline points="214.5,143.5 214.5,149.5" stroke="#000" stroke-width="1.15"/>
<polyline points="214.5,149.5 218.3,151.8 210.7,156.9 218.3,161.5 210.7,166.6 218.3,171.3 210.7,176.3 214.5,178.7" stroke="#000" stroke-width="1.15"/>
<polyline points="214.5,178.5 214.5,202.5" stroke="#000" stroke-width="1.15"/>
<circle cx="214.5" cy="189.5" r="1.9" fill="#000" stroke="none"/>
<polyline points="214.5,190.5 220.5,190.5" stroke="#000" stroke-width="1.15"/>
<polyline points="232.5,190.5 290.5,190.5 290.5,266.5" stroke="#000" stroke-width="1.15"/>
<polyline points="226.5,135.5 226.5,202.5" stroke="#000" stroke-width="1.15"/>
<circle cx="226.5" cy="184.5" r="1.9" fill="#000" stroke="none"/>
<polyline points="226.5,184.5 296.5,184.5" stroke="#000" stroke-width="1.15"/>
<text x="184" y="168.89" font-size="7.4" fill="#000" textLength="12.5" lengthAdjust="spacingAndGlyphs" stroke="#000" stroke-width="0.5">R10</text>
<text x="186" y="177.69" font-size="7.4" fill="#000" textLength="9" lengthAdjust="spacingAndGlyphs" stroke="#000" stroke-width="0.5">1M</text>
<polyline points="194.5,196.5 246.5,196.5 246.5,232.5 194.5,232.5 194.5,196.5" stroke="#000" stroke-width="1.15"/>
<rect x="201.2" y="202" width="2.6" height="22.5" fill="#000"/>
<rect x="236.4" y="202" width="2.6" height="22.5" fill="#000"/>
<polyline points="203.5,206.5 214.5,201.5" stroke="#000" stroke-width="1.15"/>
<polyline points="237.5,206.5 226.5,201.5" stroke="#000" stroke-width="1.15"/>
<polyline points="203.5,220.5 214.5,225.5 214.5,229.5 226.5,229.5 226.5,225.5 237.5,220.5" stroke="#000" stroke-width="1.15"/>
<polygon points="214.4,225.5 208.6,225.2 211,220.9" fill="#000" stroke="none"/>
<polygon points="226.5,225.5 232.2,225.2 229.9,220.9" fill="#000" stroke="none"/>
<polyline points="220.5,229.5 220.5,237.5" stroke="#000" stroke-width="1.15"/>
<polyline points="220.5,237.5 224.3,239.8 216.7,244.9 224.3,249.5 216.7,254.6 224.3,259.3 216.7,264.3 220.5,266.7" stroke="#000" stroke-width="1.15"/>
<polyline points="220.5,266.5 220.5,277.5 237.5,277.5" stroke="#000" stroke-width="1.15"/>
<polyline points="239.5,213.5 258.5,213.5 258.5,221.5" stroke="#000" stroke-width="1.15"/>
<polyline points="252.5,221.5 263.5,221.5" stroke="#000" stroke-width="1.15"/>
<polyline points="255.5,224.5 260.5,224.5" stroke="#000" stroke-width="1.15"/>
<rect x="257.5" y="227" width="1" height="1" fill="#000"/>
<text x="262.2" y="199.19" font-size="7.4" fill="#000" textLength="8.2" lengthAdjust="spacingAndGlyphs" stroke="#000" stroke-width="0.5">U2</text>
<text x="258" y="208.89" font-size="7.4" fill="#000" textLength="16" lengthAdjust="spacingAndGlyphs" stroke="#000" stroke-width="0.5">3046</text>
<polyline points="185.5,213.5 185.5,219.5" stroke="#000" stroke-width="1.15"/>
<polyline points="185.5,219.6 189.3,221.9 181.7,227 189.3,231.6 181.7,236.7 189.3,241.4 181.7,246.4 185.5,248.8" stroke="#000" stroke-width="1.15"/>
<polyline points="185.5,248.5 185.5,254.5" stroke="#000" stroke-width="1.15"/>
<polyline points="179.5,254.5 191.5,254.5" stroke="#000" stroke-width="1.15"/>
<polyline points="182.5,257.5 188.5,257.5" stroke="#000" stroke-width="1.15"/>
<rect x="185.1" y="260" width="1" height="1" fill="#000"/>
<text x="160" y="236.19" font-size="7.4" fill="#000" textLength="8.5" lengthAdjust="spacingAndGlyphs" stroke="#000" stroke-width="0.5">R9</text>
<text x="160" y="245.89" font-size="7.4" fill="#000" textLength="8.5" lengthAdjust="spacingAndGlyphs" stroke="#000" stroke-width="0.5">1K</text>
<text x="160" y="254.89" font-size="7.4" fill="#000" textLength="8.5" lengthAdjust="spacingAndGlyphs" stroke="#000" stroke-width="0.5">TC</text>
<text x="196" y="264.89" font-size="7.4" fill="#000" textLength="12.3" lengthAdjust="spacingAndGlyphs" stroke="#000" stroke-width="0.5">R11</text>
<text x="196" y="274.09" font-size="7.4" fill="#000" textLength="12.3" lengthAdjust="spacingAndGlyphs" stroke="#000" stroke-width="0.5">10K</text>
<polyline points="278.5,257.5 278.5,297.5 238.5,277.5 278.5,257.5" stroke="#000" stroke-width="1.15"/>
<polyline points="273.4,267.5 275.4,267.5" stroke="#000" stroke-width="1.15"/>
<polyline points="270.5,286.5 274.5,286.5" stroke="#000" stroke-width="1.15"/>
<polyline points="272.5,284.5 272.5,288.5" stroke="#000" stroke-width="1.15"/>
<text x="255.5" y="280.69" font-size="7.4" fill="#000" textLength="8.3" lengthAdjust="spacingAndGlyphs" stroke="#000" stroke-width="0.5">U1</text>
<circle cx="232.5" cy="277.5" r="1.9" fill="#000" stroke="none"/>
<polyline points="232.5,277.5 232.5,248.5 254.5,248.5" stroke="#000" stroke-width="1.15"/>
<polyline points="254.5,243.5 254.5,254.5" stroke="#000" stroke-width="1.15"/>
<path d="M260.3,242.6 Q256.8,248.5 260.3,254.4" fill="none" stroke="#000" stroke-width="1.15"/>
<polyline points="258.5,248.5 290.5,248.5" stroke="#000" stroke-width="1.15"/>
<circle cx="290.5" cy="248.5" r="1.9" fill="#000" stroke="none"/>
<polyline points="278.5,266.5 308.5,266.5 308.5,358.5" stroke="#000" stroke-width="1.15"/>
<circle cx="290.5" cy="266.5" r="1.9" fill="#000" stroke="none"/>
<polyline points="278.5,289.5 290.5,289.5 290.5,297.5" stroke="#000" stroke-width="1.15"/>
<polyline points="284.5,297.5 295.5,297.5" stroke="#000" stroke-width="1.15"/>
<polyline points="287.5,300.5 292.5,300.5" stroke="#000" stroke-width="1.15"/>
<rect x="289.5" y="303" width="1" height="1" fill="#000"/>
<text x="267.5" y="234.19" font-size="7.4" fill="#000" textLength="8.5" lengthAdjust="spacingAndGlyphs" stroke="#000" stroke-width="0.5">C3</text>
<text x="262" y="242.99" font-size="7.4" fill="#000" textLength="18.5" lengthAdjust="spacingAndGlyphs" stroke="#000" stroke-width="0.5">100pF</text>
<polyline points="68.5,260.5 136.5,260.5 136.5,265.5" stroke="#000" stroke-width="1.15"/>
<circle cx="68.5" cy="260.5" r="1.9" fill="#000" stroke="none"/>
<circle cx="104.5" cy="260.5" r="1.9" fill="#000" stroke="none"/>
<polyline points="68.5,260.5 68.5,266.5" stroke="#000" stroke-width="1.15"/>
<polyline points="68.5,266.5 72.3,268.8 64.7,273.9 72.3,278.5 64.7,283.6 72.3,288.3 64.7,293.3 68.5,295.7" stroke="#000" stroke-width="1.15"/>
<polyline points="68.5,295.5 68.5,303.5" stroke="#000" stroke-width="1.15"/>
<circle cx="68.5" cy="303.5" r="1.9" fill="#000" stroke="none"/>
<polyline points="68.5,303.5 60.5,303.5" stroke="#000" stroke-width="1.15"/>
<polygon points="55.2,303 55.2,304 61.2,307.1 61.2,299.9" fill="#000" stroke="none"/>
<circle cx="68.9" cy="310.9" r="7.05" fill="none" stroke="#000" stroke-width="1.05"/>
<text x="65.7" y="313.6" font-size="6.3" fill="#000" textLength="4.4" lengthAdjust="spacingAndGlyphs" stroke="#000" stroke-width="0.15">F</text>
<polygon points="50,277 51,277 53.6,281.3 53.6,283.5 47.4,283.5 47.4,281.3" fill="#000" stroke="none"/>
<polyline points="50.5,284.5 50.5,289.5" stroke="#000" stroke-width="1.15"/>
<polyline points="50.5,289.8 54.3,292.1 46.7,297.2 54.3,301.8 46.7,306.9 54.3,311.6 46.7,316.6 50.5,319" stroke="#000" stroke-width="1.15"/>
<polyline points="50.5,319.5 50.5,323.5" stroke="#000" stroke-width="1.15"/>
<polygon points="50,330 51,330 53.6,325.2 53.6,323 47.4,323 47.4,325.2" fill="#000" stroke="none"/>
<text x="46" y="264.59" font-size="7.4" fill="#000" textLength="8.5" lengthAdjust="spacingAndGlyphs" stroke="#000" stroke-width="0.5">R4</text>
<text x="41.5" y="273.89" font-size="7.4" fill="#000" textLength="16.5" lengthAdjust="spacingAndGlyphs" stroke="#000" stroke-width="0.5">330K</text>
<polyline points="104.5,260.5 104.5,266.5" stroke="#000" stroke-width="1.15"/>
<polyline points="104.5,266.5 108.3,268.8 100.7,273.9 108.3,278.5 100.7,283.6 108.3,288.3 100.7,293.3 104.5,295.7" stroke="#000" stroke-width="1.15"/>
<polyline points="104.5,295.5 104.5,303.5" stroke="#000" stroke-width="1.15"/>
<circle cx="104.5" cy="303.5" r="1.9" fill="#000" stroke="none"/>
<polyline points="104.5,303.5 95.5,303.5" stroke="#000" stroke-width="1.15"/>
<polygon points="90.6,303 90.6,304 96.6,307.1 96.6,299.9" fill="#000" stroke="none"/>
<circle cx="104" cy="310.9" r="7.05" fill="none" stroke="#000" stroke-width="1.05"/>
<text x="102.9" y="314.2" font-size="6.3" fill="#000" textLength="4.8" lengthAdjust="spacingAndGlyphs" stroke="#000" stroke-width="0.15">G</text>
<polygon points="86,277 87,277 89.6,281.3 89.6,283.5 83.4,283.5 83.4,281.3" fill="#000" stroke="none"/>
<polyline points="86.5,284.5 86.5,289.5" stroke="#000" stroke-width="1.15"/>
<polyline points="86.5,289.8 90.3,292.1 82.7,297.2 90.3,301.8 82.7,306.9 90.3,311.6 82.7,316.6 86.5,319" stroke="#000" stroke-width="1.15"/>
<polyline points="86.5,319.5 86.5,323.5" stroke="#000" stroke-width="1.15"/>
<polygon points="86,330 87,330 89.6,325.2 89.6,323 83.4,323 83.4,325.2" fill="#000" stroke="none"/>
<text x="81" y="266.99" font-size="7.4" fill="#000" textLength="8.5" lengthAdjust="spacingAndGlyphs" stroke="#000" stroke-width="0.5">R5</text>
<text x="81" y="276.89" font-size="7.4" fill="#000" textLength="8.5" lengthAdjust="spacingAndGlyphs" stroke="#000" stroke-width="0.5">1M</text>
<polyline points="136.5,265.2 140.3,267.5 132.7,272.6 140.3,277.2 132.7,282.3 140.3,287 132.7,292 136.5,294.4" stroke="#000" stroke-width="1.15"/>
<polyline points="136.5,294.5 136.5,303.5 126.5,303.5" stroke="#000" stroke-width="1.15"/>
<polyline points="126.5,300.5 126.5,307.5" stroke="#000" stroke-width="1.15"/>
<polygon points="121,277.3 122,277.3 124.6,281.6 124.6,283.8 118.4,283.8 118.4,281.6" fill="#000" stroke="none"/>
<polyline points="121.5,284.5 121.5,289.5" stroke="#000" stroke-width="1.15"/>
<polyline points="121.5,289.8 125.3,292.1 117.7,297.2 125.3,301.8 117.7,306.9 125.3,311.6 117.7,316.6 121.5,319" stroke="#000" stroke-width="1.15"/>
<polyline points="121.5,319.5 121.5,323.5" stroke="#000" stroke-width="1.15"/>
<polygon points="121,330 122,330 124.6,325.2 124.6,323 118.4,323 118.4,325.2" fill="#000" stroke="none"/>
<text x="116" y="267.09" font-size="7.4" fill="#000" textLength="9" lengthAdjust="spacingAndGlyphs" stroke="#000" stroke-width="0.5">R6</text>
<text x="112" y="276.39" font-size="7.4" fill="#000" textLength="16.5" lengthAdjust="spacingAndGlyphs" stroke="#000" stroke-width="0.5">100K</text>
<polygon points="155,266.8 156,266.8 158.1,271.1 158.1,273.3 152.9,273.3 152.9,271.1" fill="#000" stroke="none"/>
<polyline points="155.5,273.5 155.5,278.5" stroke="#000" stroke-width="1.15"/>
<polyline points="155.5,278.5 159.3,280.8 151.7,285.9 159.3,290.5 151.7,295.6 159.3,300.3 151.7,305.3 155.5,307.7" stroke="#000" stroke-width="1.15"/>
<polyline points="155.5,307.5 155.5,312.5" stroke="#000" stroke-width="1.15"/>
<polyline points="150.5,312.5 161.5,312.5" stroke="#000" stroke-width="1.15"/>
<polyline points="153.5,315.5 158.5,315.5" stroke="#000" stroke-width="1.15"/>
<rect x="155.4" y="317.5" width="1" height="1" fill="#000"/>
<circle cx="173.5" cy="292.5" r="1.9" fill="#000" stroke="none"/>
<polyline points="173.5,292.5 166.5,292.5" stroke="#000" stroke-width="1.15"/>
<polygon points="161.3,292 161.3,293 166.9,295.2 166.9,289.8" fill="#000" stroke="none"/>
<circle cx="173.5" cy="283.7" r="7.05" fill="none" stroke="#000" stroke-width="1.05"/>
<text x="171.8" y="285.1" font-size="6.3" fill="#000" textLength="4.4" lengthAdjust="spacingAndGlyphs" stroke="#000" stroke-width="0.15">R</text>
<polyline points="173.5,292.5 173.5,301.5" stroke="#000" stroke-width="1.15"/>
<polyline points="173.5,301.5 177.3,303.8 169.7,308.9 177.3,313.5 169.7,318.6 177.3,323.3 169.7,328.3 173.5,330.7" stroke="#000" stroke-width="1.15"/>
<polyline points="173.5,330.5 173.5,355.5" stroke="#000" stroke-width="1.15"/>
<polyline points="173.5,362.5 173.5,394.5" stroke="#000" stroke-width="1.15"/>
<circle cx="173.5" cy="394.5" r="1.9" fill="#000" stroke="none"/>
<text x="184" y="321.69" font-size="7.4" fill="#000" textLength="12.3" lengthAdjust="spacingAndGlyphs" stroke="#000" stroke-width="0.5">R29</text>
<text x="182" y="330.89" font-size="7.4" fill="#000" textLength="16.5" lengthAdjust="spacingAndGlyphs" stroke="#000" stroke-width="0.5">100K</text>
<circle cx="9.2" cy="359" r="7.05" fill="none" stroke="#000" stroke-width="1.05"/>
<text x="6.6" y="360.7" font-size="6.3" fill="#000" textLength="5.2" lengthAdjust="spacingAndGlyphs" stroke="#000" stroke-width="0.15">M</text>
<circle cx="16.5" cy="359.5" r="1.9" fill="#000" stroke="none"/>
<polyline points="16.5,358.5 34.5,358.5" stroke="#000" stroke-width="1.15"/>
<polyline points="34,358.5 36.3,354 41.4,363 46,354 51.1,363 55.8,354 60.8,363 63.2,358.5" stroke="#000" stroke-width="1.15"/>
<polyline points="63.5,358.5 308.5,358.5" stroke="#000" stroke-width="1.15"/>
<text x="73" y="366.89" font-size="7.4" fill="#000" textLength="12.3" lengthAdjust="spacingAndGlyphs" stroke="#000" stroke-width="0.5">R12</text>
<text x="71" y="375.89" font-size="7.4" fill="#000" textLength="16.5" lengthAdjust="spacingAndGlyphs" stroke="#000" stroke-width="0.5">470K</text>
<circle cx="9.2" cy="394.2" r="7.05" fill="none" stroke="#000" stroke-width="1.05"/>
<text x="7" y="395.9" font-size="6.3" fill="#000" textLength="4.4" lengthAdjust="spacingAndGlyphs" stroke="#000" stroke-width="0.15">S</text>
<circle cx="16.5" cy="394.5" r="1.9" fill="#000" stroke="none"/>
<polyline points="16.5,394.5 34.5,394.5" stroke="#000" stroke-width="1.15"/>
<polyline points="34,394.5 36.3,390 41.4,399 46,390 51.1,399 55.8,390 60.8,399 63.2,394.5" stroke="#000" stroke-width="1.15"/>
<polyline points="63.5,394.5 325.5,394.5" stroke="#000" stroke-width="1.15"/>
<text x="73" y="401.19" font-size="7.4" fill="#000" textLength="12.3" lengthAdjust="spacingAndGlyphs" stroke="#000" stroke-width="0.5">R30</text>
<text x="71" y="410.19" font-size="7.4" fill="#000" textLength="16.5" lengthAdjust="spacingAndGlyphs" stroke="#000" stroke-width="0.5">100K</text>
<polygon points="348,286.2 349,286.2 351.5,290 351.5,292.2 345.5,292.2 345.5,290" fill="#000" stroke="none"/>
<polyline points="348.5,292.5 348.5,298.5" stroke="#000" stroke-width="1.15"/>
<polyline points="348.5,298.5 352.3,300.8 344.7,305.9 352.3,310.5 344.7,315.6 352.3,320.3 344.7,325.3 348.5,327.7" stroke="#000" stroke-width="1.15"/>
<polyline points="348.5,327.5 348.5,331.5" stroke="#000" stroke-width="1.15"/>
<polygon points="348,339 349,339 351.3,333.7 351.3,331.5 345.7,331.5 345.7,333.7" fill="#000" stroke="none"/>
<polyline points="354.5,306.5 354.5,318.5" stroke="#000" stroke-width="1.15"/>
<polyline points="354.5,312.5 366.5,312.5" stroke="#000" stroke-width="1.15"/>
<polyline points="366,312.5 368.3,308 373.4,317 378,308 383.1,317 387.8,308 392.8,317 395.2,312.5" stroke="#000" stroke-width="1.15"/>
<polyline points="395.5,312.5 424.5,312.5" stroke="#000" stroke-width="1.15"/>
<circle cx="400.5" cy="312.5" r="1.9" fill="#000" stroke="none"/>
<text x="344" y="347.39" font-size="7.4" fill="#000" textLength="8.5" lengthAdjust="spacingAndGlyphs" stroke="#000" stroke-width="0.5">T3</text>
<text x="341" y="357.39" font-size="7.4" fill="#000" textLength="12.5" lengthAdjust="spacingAndGlyphs" stroke="#000" stroke-width="0.5">50K</text>
<text x="332" y="366.89" font-size="7.4" fill="#000" textLength="29" lengthAdjust="spacingAndGlyphs" stroke="#000" stroke-width="0.5">Sine Trim</text>
<text x="369" y="294.09" font-size="7.4" fill="#000" textLength="12.3" lengthAdjust="spacingAndGlyphs" stroke="#000" stroke-width="0.5">R37</text>
<text x="367" y="303.39" font-size="7.4" fill="#000" textLength="17" lengthAdjust="spacingAndGlyphs" stroke="#000" stroke-width="0.5">100K</text>
<polyline points="400.5,254.5 404.3,256.8 396.7,261.9 404.3,266.5 396.7,271.6 404.3,276.3 396.7,281.3 400.5,283.7" stroke="#000" stroke-width="1.15"/>
<polyline points="400.5,283.5 400.5,319.5" stroke="#000" stroke-width="1.15"/>
<polyline points="400.5,319 404.3,321.3 396.7,326.4 404.3,331 396.7,336.1 404.3,340.8 396.7,345.8 400.5,348.2" stroke="#000" stroke-width="1.15"/>
<polyline points="400.5,348.5 400.5,356.5" stroke="#000" stroke-width="1.15"/>
<polyline points="395.5,356.5 406.5,356.5" stroke="#000" stroke-width="1.15"/>
<polyline points="398.5,359.5 403.5,359.5" stroke="#000" stroke-width="1.15"/>
<rect x="400.4" y="361.5" width="1" height="1" fill="#000"/>
<text x="376" y="271.19" font-size="7.4" fill="#000" textLength="12.4" lengthAdjust="spacingAndGlyphs" stroke="#000" stroke-width="0.5">R35</text>
<text x="376" y="279.89" font-size="7.4" fill="#000" textLength="12.4" lengthAdjust="spacingAndGlyphs" stroke="#000" stroke-width="0.5">22K</text>
<text x="379" y="339.39" font-size="7.4" fill="#000" textLength="12.5" lengthAdjust="spacingAndGlyphs" stroke="#000" stroke-width="0.5">R36</text>
<text x="381.5" y="348.19" font-size="7.4" fill="#3a1414" textLength="8.5" lengthAdjust="spacingAndGlyphs" stroke="#3a1414" stroke-width="0.5">1K</text>
<polyline points="376,341 395,349.5" stroke="#b02a30" stroke-width="0.9"/>
<polyline points="376,349.5 395,341" stroke="#b02a30" stroke-width="0.9"/>
<text x="373" y="363.3" font-size="13.5" fill="#d3141e" font-weight="bold" textLength="21.5" lengthAdjust="spacingAndGlyphs" stroke="#d3141e" stroke-width="0.2">845</text>
<polyline points="424.5,281.5 424.5,321.5 464.5,301.5 424.5,281.5" stroke="#000" stroke-width="1.15"/>
<polyline points="428.1,292.5 430.1,292.5" stroke="#000" stroke-width="1.15"/>
<polyline points="427.5,310.5 432.5,310.5" stroke="#000" stroke-width="1.15"/>
<polyline points="429.5,308.5 429.5,312.5" stroke="#000" stroke-width="1.15"/>
<text x="436.6" y="303.19" font-size="7.4" fill="#000" textLength="9" lengthAdjust="spacingAndGlyphs" stroke="#000" stroke-width="0.5">U6</text>
<polyline points="424.5,289.5 412.5,289.5 412.5,302.5" stroke="#000" stroke-width="1.15"/>
<polyline points="406.5,302.5 418.5,302.5" stroke="#000" stroke-width="1.15"/>
<polyline points="409.5,305.5 415.5,305.5" stroke="#000" stroke-width="1.15"/>
<rect x="411.8" y="308.1" width="1" height="1" fill="#000"/>
<polygon points="441,239.3 442,239.3 444.1,246.1 444.1,248.3 438.9,248.3 438.9,246.1" fill="#000" stroke="none"/>
<polyline points="441.5,248.5 441.5,254.5" stroke="#000" stroke-width="1.15"/>
<polyline points="441.5,254.8 445.3,257.1 437.7,262.2 445.3,266.8 437.7,271.9 445.3,276.6 437.7,281.6 441.5,284" stroke="#000" stroke-width="1.15"/>
<polyline points="441.5,284.5 441.5,289.5" stroke="#000" stroke-width="1.15"/>
<text x="416.3" y="263.59" font-size="7.4" fill="#000" textLength="12.7" lengthAdjust="spacingAndGlyphs" stroke="#000" stroke-width="0.5">R38</text>
<text x="415.3" y="273.39" font-size="7.4" fill="#000" textLength="16" lengthAdjust="spacingAndGlyphs" stroke="#000" stroke-width="0.5">220K</text>
<polyline points="464.5,300.5 482.5,300.5 482.5,271.5 523.5,271.5" stroke="#000" stroke-width="1.15"/>
<circle cx="500.5" cy="271.5" r="1.9" fill="#000" stroke="none"/>
<polyline points="500.5,271.5 500.5,289.5 511.5,289.5" stroke="#000" stroke-width="1.15"/>
<polyline points="500.5,312.5 511.5,312.5" stroke="#000" stroke-width="1.15"/>
<polyline points="500.5,312.5 500.5,327.5" stroke="#000" stroke-width="1.15"/>
<polyline points="494.5,327.5 506.5,327.5" stroke="#000" stroke-width="1.15"/>
<polyline points="497.5,330.5 503.5,330.5" stroke="#000" stroke-width="1.15"/>
<rect x="499.9" y="333" width="1" height="1" fill="#000"/>
<polyline points="523,271.5 525.3,267 530.4,276 535,267 540.1,276 544.8,267 549.8,276 552.2,271.5" stroke="#000" stroke-width="1.15"/>
<polyline points="552.5,271.5 564.5,271.5 564.5,300.5" stroke="#000" stroke-width="1.15"/>
<text x="526.6" y="253.59" font-size="7.4" fill="#000" textLength="13" lengthAdjust="spacingAndGlyphs" stroke="#000" stroke-width="0.5">R39</text>
<text x="527.5" y="262.99" font-size="7.4" fill="#000" textLength="12.2" lengthAdjust="spacingAndGlyphs" stroke="#000" stroke-width="0.5">39K</text>
<polyline points="500.5,271.5 500.5,244.5 550.5,244.5" stroke="#c3303a" stroke-width="1.05"/>
<polyline points="550.5,240.5 550.5,249.5" stroke="#c3303a" stroke-width="1.1"/>
<polyline points="553.5,240.5 553.5,249.5" stroke="#c3303a" stroke-width="1.1"/>
<polyline points="553.5,244.5 564.5,244.5 564.5,271.5" stroke="#c3303a" stroke-width="1.05"/>
<circle cx="564.5" cy="271.5" r="1.6" fill="#8a1016" stroke="none"/>
<text x="567.4" y="250.2" font-size="13" fill="#d3141e" textLength="35.2" lengthAdjust="spacingAndGlyphs" stroke="#d3141e" stroke-width="0.6">100pF</text>
<polyline points="511.5,280.5 511.5,320.5 551.5,300.5 511.5,280.5" stroke="#000" stroke-width="1.15"/>
<polyline points="515.6,292.5 517.6,292.5" stroke="#000" stroke-width="1.15"/>
<polyline points="515.5,310.5 519.5,310.5" stroke="#000" stroke-width="1.15"/>
<polyline points="517.5,307.5 517.5,312.5" stroke="#000" stroke-width="1.15"/>
<text x="524" y="303.69" font-size="7.4" fill="#000" textLength="8.5" lengthAdjust="spacingAndGlyphs" stroke="#000" stroke-width="0.5">U5</text>
<polyline points="551.5,300.5 582.5,300.5" stroke="#000" stroke-width="1.15"/>
<circle cx="564.5" cy="300.5" r="1.9" fill="#000" stroke="none"/>
<polyline points="582,300.5 584.3,296 589.4,305 594,296 599.1,305 603.8,296 608.8,305 611.2,300.5" stroke="#000" stroke-width="1.15"/>
<polyline points="611.5,300.5 621.5,300.5" stroke="#000" stroke-width="1.15"/>
<circle cx="621.5" cy="300.5" r="1.9" fill="#000" stroke="none"/>
<circle cx="629.6" cy="300.8" r="7.05" fill="none" stroke="#000" stroke-width="1.05"/>
<text x="627.4" y="302.8" font-size="6.3" fill="#000" textLength="4.4" lengthAdjust="spacingAndGlyphs" stroke="#000" stroke-width="0.15">A</text>
<text x="586" y="282.89" font-size="7.4" fill="#000" textLength="12.5" lengthAdjust="spacingAndGlyphs" stroke="#000" stroke-width="0.5">R40</text>
<text x="588" y="292.69" font-size="7.4" fill="#000" textLength="8" lengthAdjust="spacingAndGlyphs" stroke="#000" stroke-width="0.5">1K</text>
<polyline points="477.8,14.3 487,28" stroke="#d3141e" stroke-width="0.9"/>
<polyline points="477.8,28 487,14.3" stroke="#d3141e" stroke-width="0.9"/>
<text x="490" y="25.7" font-size="12" fill="#d3141e" font-weight="bold" textLength="115" lengthAdjust="spacingAndGlyphs" stroke="#d3141e" stroke-width="0.2">cut connection to R31</text>
<text x="541.2" y="38.8" font-size="12" fill="#d3141e" font-weight="bold" textLength="85" lengthAdjust="spacingAndGlyphs" stroke="#d3141e" stroke-width="0.2">connect to +12V</text>
</g>
</svg>
</body></html>
